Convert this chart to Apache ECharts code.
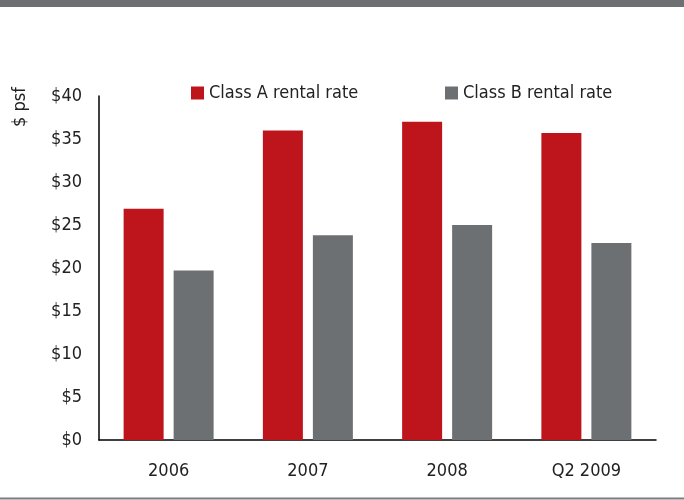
<!DOCTYPE html>
<html>
<head>
<meta charset="utf-8">
<script src="https://cdn.jsdelivr.net/npm/echarts@6/dist/echarts.min.js"></script>
<style>
  html, body { margin: 0; padding: 0; background: #fff; }
  #chart { width: 684px; height: 500px; }
</style>
</head>
<body>
<div id="chart"></div>
<script>
const categories = ['2006', '2007', '2008', 'Q2 2009'];
const classA = [26.9, 36.0, 37.0, 35.7];
const classB = [19.7, 23.8, 25.0, 22.9];
const yTicks = { min: 0, max: 40, interval: 5 };

const FONT = "'Liberation Sans Narrow', 'DejaVu Sans Condensed', 'Arial Narrow', sans-serif";
const RED = '#be151d';
const GREY = '#6d7073';

const chart = echarts.init(document.getElementById('chart'));

chart.setOption({
    backgroundColor: '#fff',
    textStyle: { fontFamily: FONT },
    animation: false,
    graphic: [
        // top band and bottom rule
        { type: 'rect', left: 0, top: 0, shape: { width: 684, height: 7 }, style: { fill: GREY } },
        { type: 'rect', left: 0, top: 497.5, shape: { width: 684, height: 2 }, style: { fill: '#7a7c7f' } },
        // y axis title, rotated, left of the tick labels
        {
            type: 'text', x: 20, y: 107, rotation: Math.PI / 2,
            style: { text: '$ psf', fontFamily: FONT, fontSize: 18, fill: '#222', align: 'center', verticalAlign: 'middle' }
        }
    ],
    legend: [
        {
            data: ['Class A rental rate'], left: 186, top: 79,
            itemWidth: 13, itemHeight: 13, icon: 'rect', itemGap: 5,
            textStyle: { fontFamily: FONT, fontSize: 18, color: '#222' }
        },
        {
            data: ['Class B rental rate'], left: 440, top: 79,
            itemWidth: 13, itemHeight: 13, icon: 'rect', itemGap: 5,
            textStyle: { fontFamily: FONT, fontSize: 18, color: '#222' }
        }
    ],
    grid: { left: 99, right: 28, top: 96, bottom: 60, containLabel: false },
    xAxis: {
        type: 'category',
        data: categories,
        axisLine: { lineStyle: { color: '#000', width: 1.5 } },
        axisTick: { show: false },
        axisLabel: { fontFamily: FONT, fontSize: 18, color: '#222', margin: 22 }
    },
    yAxis: {
        type: 'value',
        min: yTicks.min, max: yTicks.max, interval: yTicks.interval,
        axisLine: { show: true, lineStyle: { color: '#000', width: 1.5 } },
        axisTick: { show: false },
        splitLine: { show: false },
        axisLabel: { fontFamily: FONT, fontSize: 18, color: '#222', margin: 17, formatter: v => '$' + v }
    },
    series: [
        {
            name: 'Class A rental rate', type: 'bar', data: classA,
            barWidth: 40, barGap: '25%',
            itemStyle: { color: RED }
        },
        {
            name: 'Class B rental rate', type: 'bar', data: classB,
            barWidth: 40, barGap: '25%',
            itemStyle: { color: GREY }
        }
    ]
});
</script>
</body>
</html>
